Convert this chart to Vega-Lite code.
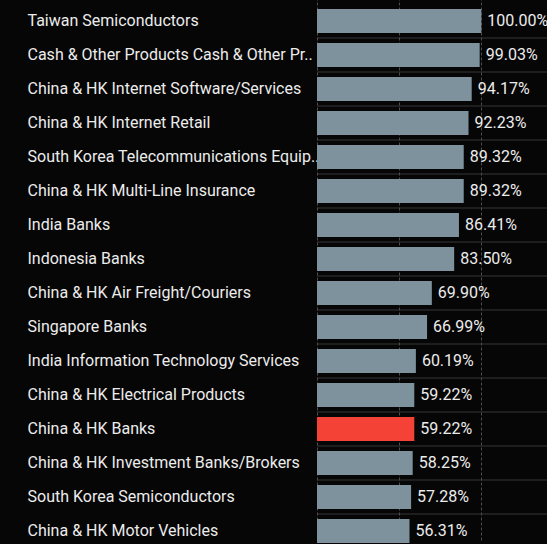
{
  "$schema": "https://vega.github.io/schema/vega-lite/v6.json",
  "autosize": "none",
  "width": 230,
  "height": 544,
  "padding": {"left": 317, "top": 0, "right": 0, "bottom": 0},
  "background": "#060606",
  "data": {"values": [
    {"category": "Taiwan Semiconductors", "value": 1.0, "highlight": "no"},
    {"category": "Cash & Other Products Cash & Other Pr..", "value": 0.9903, "highlight": "no"},
    {"category": "China & HK Internet Software/Services", "value": 0.9417, "highlight": "no"},
    {"category": "China & HK Internet Retail", "value": 0.9223, "highlight": "no"},
    {"category": "South Korea Telecommunications Equip..", "value": 0.8932, "highlight": "no"},
    {"category": "China & HK Multi-Line Insurance", "value": 0.8932, "highlight": "no"},
    {"category": "India Banks", "value": 0.8641, "highlight": "no"},
    {"category": "Indonesia Banks", "value": 0.835, "highlight": "no"},
    {"category": "China & HK Air Freight/Couriers", "value": 0.699, "highlight": "no"},
    {"category": "Singapore Banks", "value": 0.6699, "highlight": "no"},
    {"category": "India Information Technology Services", "value": 0.6019, "highlight": "no"},
    {"category": "China & HK Electrical Products", "value": 0.5922, "highlight": "no"},
    {"category": "China & HK Banks", "value": 0.5922, "highlight": "yes"},
    {"category": "China & HK Investment Banks/Brokers", "value": 0.5825, "highlight": "no"},
    {"category": "South Korea Semiconductors", "value": 0.5728, "highlight": "no"},
    {"category": "China & HK Motor Vehicles", "value": 0.5631, "highlight": "no"}
  ]},
  "layer": [
    {
      "transform": [{"filter": "datum.category != 'Taiwan Semiconductors'"}],
      "mark": {"type": "tick", "orient": "horizontal", "color": "#4d4d4d", "strokeDash": [3, 2], "thickness": 1, "yOffset": -17},
      "encoding": {
        "y": {"field": "category", "type": "nominal"},
        "x": {"datum": 0.7},
        "size": {"value": 230}
      }
    },
    {
      "mark": {"type": "bar"},
      "encoding": {
        "x": {"field": "value", "type": "quantitative"},
        "color": {
          "field": "highlight", "type": "nominal", "legend": null,
          "scale": {"domain": ["no", "yes"], "range": ["#7d929c", "#f44336"]}
        }
      }
    },
    {
      "mark": {"type": "text", "align": "left", "baseline": "middle", "dx": 6, "font": "Roboto", "fontSize": 16, "color": "#ececec"},
      "encoding": {
        "x": {"field": "value", "type": "quantitative"},
        "text": {"field": "value", "type": "quantitative", "format": ".2%"}
      }
    }
  ],
  "encoding": {
    "y": {
      "field": "category", "type": "nominal", "title": null,
      "scale": {
        "domain": ["Taiwan Semiconductors", "Cash & Other Products Cash & Other Pr..", "China & HK Internet Software/Services", "China & HK Internet Retail", "South Korea Telecommunications Equip..", "China & HK Multi-Line Insurance", "India Banks", "Indonesia Banks", "China & HK Air Freight/Couriers", "Singapore Banks", "India Information Technology Services", "China & HK Electrical Products", "China & HK Banks", "China & HK Investment Banks/Brokers", "South Korea Semiconductors", "China & HK Motor Vehicles"],
        "paddingInner": 0.3, "paddingOuter": 0.15, "range": [4, 548]
      },
      "axis": {
        "domain": false, "ticks": false, "tickSize": 0, "grid": false,
        "labelAlign": "left", "labelPadding": 290, "labelLimit": 300,
        "labelFont": "Roboto", "labelFontSize": 16, "labelColor": "#ececec"
      }
    },
    "x": {
      "field": "value", "type": "quantitative", "title": null,
      "scale": {"domain": [0, 1.4], "nice": false},
      "axis": {
        "values": [0, 0.5, 1.0], "labels": false, "ticks": false, "domain": false,
        "grid": true, "gridColor": "#4d4d4d", "gridDash": [3, 2], "gridWidth": 1
      }
    }
  },
  "config": {"view": {"stroke": null}}
}
